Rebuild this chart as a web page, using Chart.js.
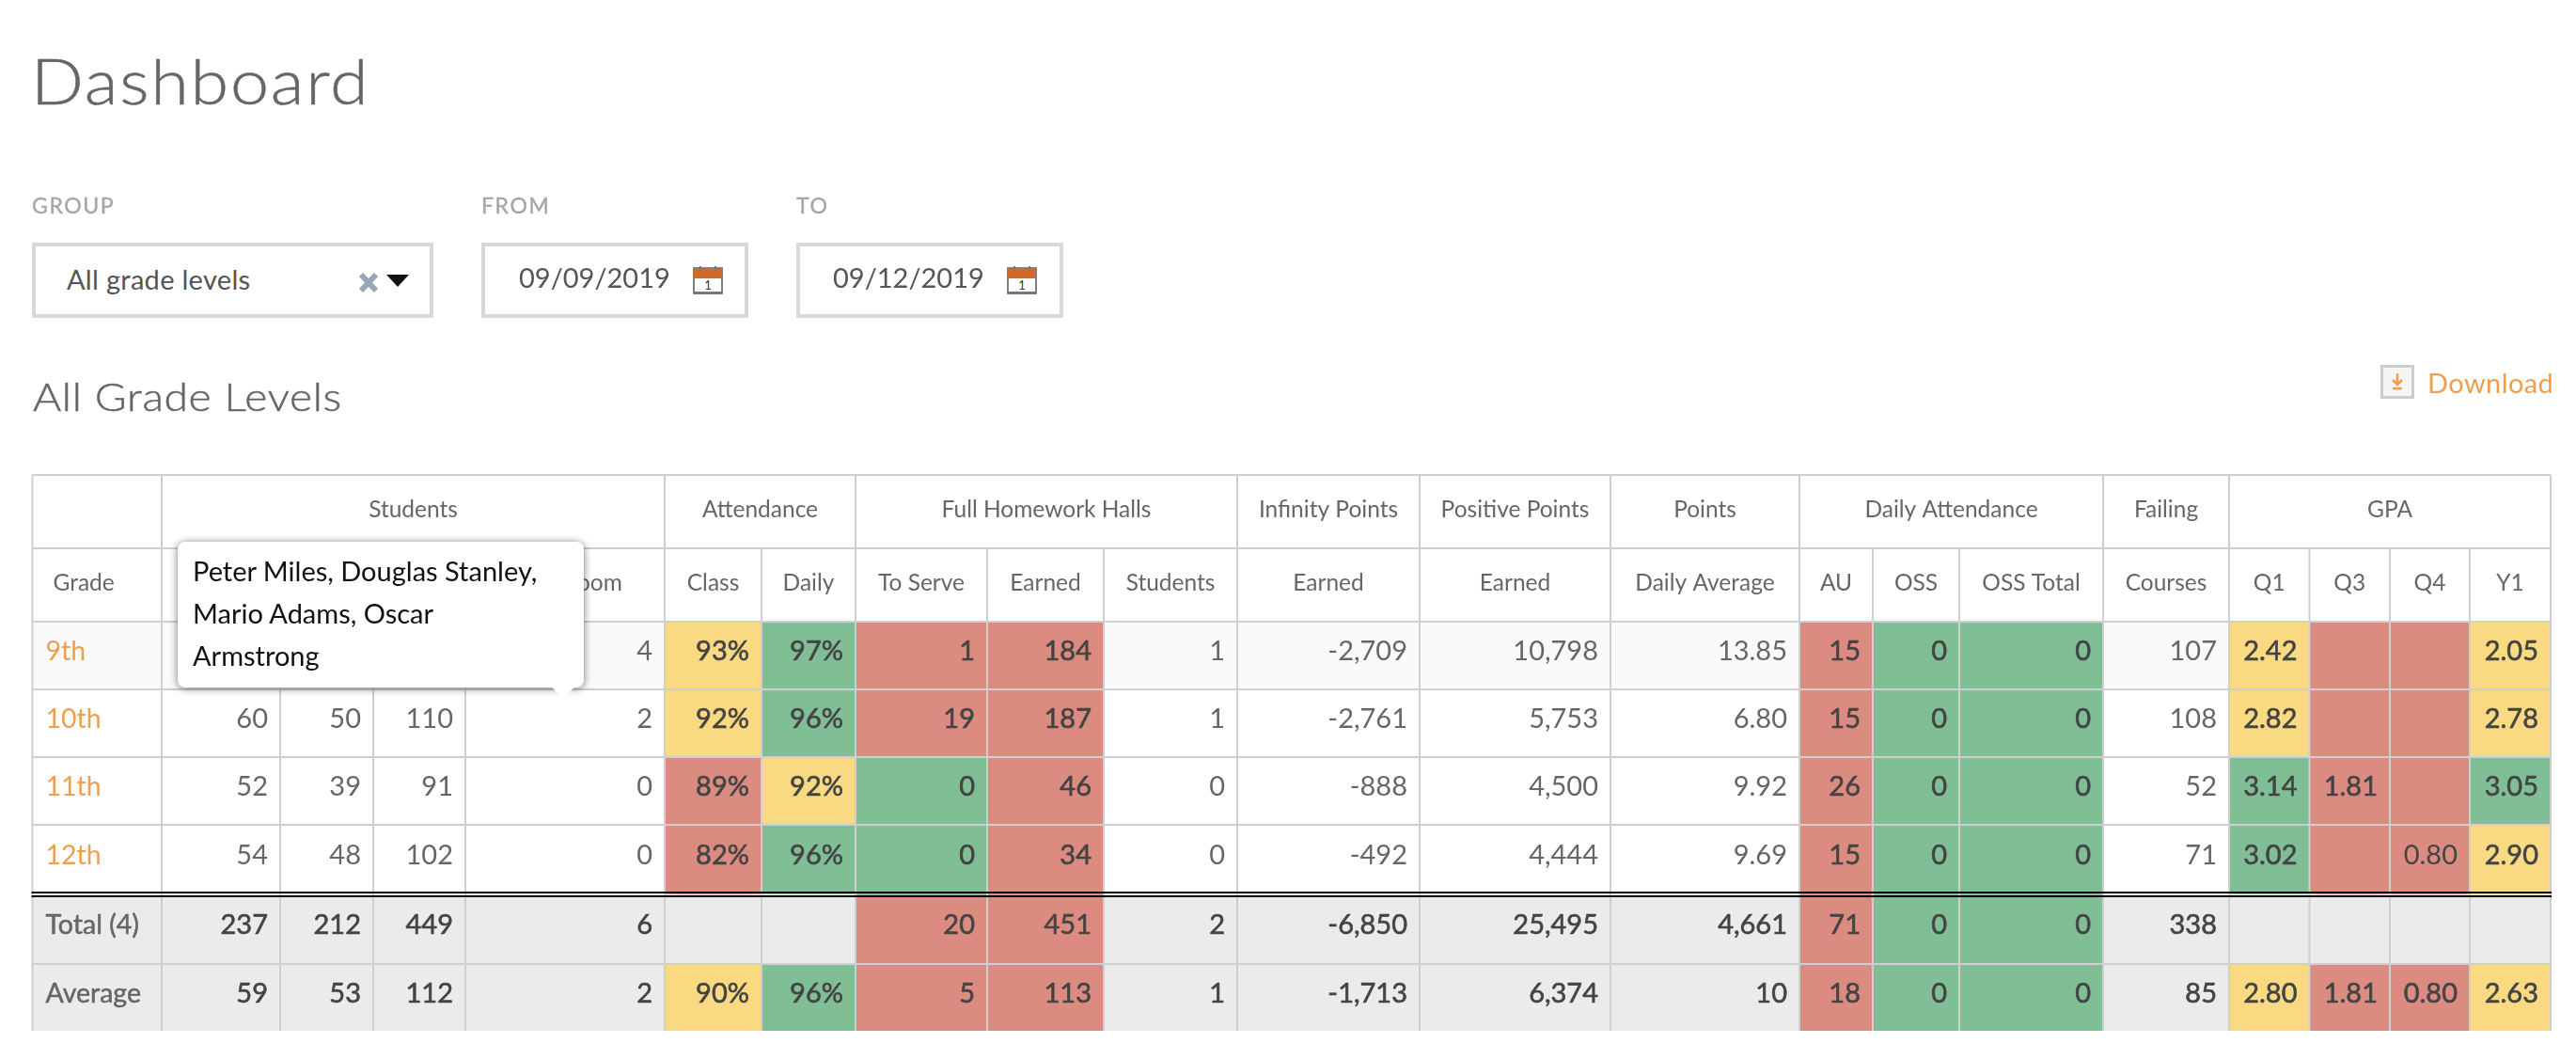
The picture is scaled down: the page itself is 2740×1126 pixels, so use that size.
<!DOCTYPE html>
<html>
<head>
<meta charset="utf-8">
<title>Dashboard</title>
<script src="https://cdn.jsdelivr.net/npm/chart.js@4"></script>
<style>
  html, body { margin: 0; padding: 0; background: #fff; font-family: Lato, sans-serif; color: #666; }
  #page { position: relative; width: 2740px; height: 1126px; overflow: hidden; }
  #page canvas { position: absolute; left: 0; top: 0; }
  .abs { position: absolute; white-space: nowrap; }
  .wide { transform-origin: 0 0; transform: scaleX(1.1); font-weight: 300; -webkit-text-stroke: .5px #666; }
  .label { font-size: 23px; color: #a6a6a6; letter-spacing: 1.6px; -webkit-text-stroke: .4px #a6a6a6; }
  .box { position: absolute; box-sizing: border-box; border: 4px solid #d9d9d9; background: #fff; height: 80px; top: 258px; }
  .field { font-size: 29px; color: #555; }
  #tip { position: absolute; left: 189px; top: 576px; width: 432px; height: 155px; box-sizing: border-box; background: #fff;
    border-radius: 8px; box-shadow: 0 1px 9px rgba(0,0,0,.55); padding: 8px 16px; color: #111; font-size: 29px; line-height: 45px; }
  #caret { position: absolute; left: 590px; top: 721px; width: 18px; height: 18px; background: #fff; transform: rotate(45deg); }
</style>
</head>
<body>
<div id="page">
  <canvas id="table" width="2740" height="1126"></canvas>

  <div class="abs wide" style="left:33px;top:45px;font-size:67px;color:#666;letter-spacing:1.6px;">Dashboard</div>

  <div class="abs label" style="left:34px;top:204px;">GROUP</div>
  <div class="abs label" style="left:512px;top:204px;">FROM</div>
  <div class="abs label" style="left:847px;top:204px;">TO</div>

  <div class="box" style="left:34px;width:427px;"></div>
  <div class="box" style="left:512px;width:284px;"></div>
  <div class="box" style="left:847px;width:284px;"></div>

  <div class="abs field" style="left:71px;top:279px;letter-spacing:.3px;">All grade levels</div>
  <svg class="abs" style="left:380px;top:289px;" width="24" height="23" viewBox="0 0 24 23">
    <path d="M4 3 L20 20 M20 3 L4 20" stroke="#9aa5b8" stroke-width="6"/>
  </svg>
  <svg class="abs" style="left:411px;top:292px;" width="24" height="13" viewBox="0 0 24 13">
    <path d="M0 0 H24 L12 13 Z" fill="#111"/>
  </svg>

  <div class="abs field" style="left:552px;top:277px;">09/09/2019</div>
  <div class="abs field" style="left:886px;top:277px;">09/12/2019</div>
  <svg class="abs" style="left:737px;top:283px;" width="32" height="31" viewBox="0 0 32 31">
    <rect x="1" y="2" width="30" height="27" fill="#fff" stroke="#555" stroke-width="1.5"/>
    <rect x="1" y="2" width="30" height="11" fill="#d2692a"/>
    <rect x="1" y="27" width="30" height="3" fill="#777"/>
    <path d="M8 0 V5 M24 0 V5" stroke="#777" stroke-width="2"/>
    <text x="16" y="25" font-size="13" text-anchor="middle" fill="#333" font-family="Lato">1</text>
  </svg>
  <svg class="abs" style="left:1071px;top:283px;" width="32" height="31" viewBox="0 0 32 31">
    <rect x="1" y="2" width="30" height="27" fill="#fff" stroke="#555" stroke-width="1.5"/>
    <rect x="1" y="2" width="30" height="11" fill="#d2692a"/>
    <rect x="1" y="27" width="30" height="3" fill="#777"/>
    <path d="M8 0 V5 M24 0 V5" stroke="#777" stroke-width="2"/>
    <text x="16" y="25" font-size="13" text-anchor="middle" fill="#333" font-family="Lato">1</text>
  </svg>

  <div class="abs wide" style="left:35px;top:396px;font-size:42px;color:#666;letter-spacing:.6px;">All Grade Levels</div>

  <svg class="abs" style="left:2532px;top:388px;" width="36" height="36" viewBox="0 0 36 36">
    <rect x="1.5" y="1.5" width="33" height="33" fill="#f5f5f5" stroke="#ccc" stroke-width="3"/>
    <path d="M18 9 V20 M13 16 L18 21 L23 16 M13 25 H23" stroke="#ee9f4e" stroke-width="2.5" fill="none"/>
  </svg>
  <div class="abs" style="left:2582px;top:389px;font-size:29px;color:#ee9f4e;letter-spacing:.4px;">Download</div>

  <div id="tip">Peter Miles, Douglas Stanley,<br>Mario Adams, Oscar<br>Armstrong</div>
  <div id="caret"></div>
</div>

<script>
// таблица - данные по колонкам
var groupLabels = ['', 'Students', 'Attendance', 'Full Homework Halls', 'Infinity Points', 'Positive Points', 'Points', 'Daily Attendance', 'Failing', 'GPA'];
var groupSpans = [1, 4, 2, 3, 1, 1, 1, 3, 1, 4];
var columnLabels = ['Grade', 'Male', 'Female', 'Total', 'Homeroom', 'Class', 'Daily', 'To Serve', 'Earned', 'Students', 'Earned', 'Earned', 'Daily Average', 'AU', 'OSS', 'OSS Total', 'Courses', 'Q1', 'Q3', 'Q4', 'Y1'];

var grades = ['9th', '10th', '11th', '12th', 'Total (4)', 'Average'];
var male = ['71', '60', '52', '54', '237', '59'];
var female = ['75', '50', '39', '48', '212', '53'];
var totalStudents = ['146', '110', '91', '102', '449', '112'];
var homeroom = ['4', '2', '0', '0', '6', '2'];
var attClass = ['93%', '92%', '89%', '82%', '', '90%'];
var attDaily = ['97%', '96%', '92%', '96%', '', '96%'];
var toServe = ['1', '19', '0', '0', '20', '5'];
var hallsEarned = ['184', '187', '46', '34', '451', '113'];
var hallsStudents = ['1', '1', '0', '0', '2', '1'];
var infinityEarned = ['-2,709', '-2,761', '-888', '-492', '-6,850', '-1,713'];
var positiveEarned = ['10,798', '5,753', '4,500', '4,444', '25,495', '6,374'];
var dailyAverage = ['13.85', '6.80', '9.92', '9.69', '4,661', '10'];
var au = ['15', '15', '26', '15', '71', '18'];
var oss = ['0', '0', '0', '0', '0', '0'];
var ossTotal = ['0', '0', '0', '0', '0', '0'];
var courses = ['107', '108', '52', '71', '338', '85'];
var q1 = ['2.42', '2.82', '3.14', '3.02', '', '2.80'];
var q3 = ['', '', '1.81', '', '', '1.81'];
var q4 = ['', '', '', '0.80', '', '0.80'];
var y1 = ['2.05', '2.78', '3.05', '2.90', '', '2.63'];

var columns = [grades, male, female, totalStudents, homeroom, attClass, attDaily, toServe, hallsEarned, hallsStudents,
  infinityEarned, positiveEarned, dailyAverage, au, oss, ossTotal, courses, q1, q3, q4, y1];

// r, y, g - цвет ячейки, пусто - обычная строка
var statusClass = ['y', 'y', 'r', 'r', '', 'y'];
var statusDaily = ['g', 'g', 'y', 'g', '', 'g'];
var statusServe = ['r', 'r', 'g', 'g', 'r', 'r'];
var statusEarned = ['r', 'r', 'r', 'r', 'r', 'r'];
var statusAu = ['r', 'r', 'r', 'r', 'r', 'r'];
var statusOss = ['g', 'g', 'g', 'g', 'g', 'g'];
var statusQ1 = ['y', 'y', 'g', 'g', '', 'y'];
var statusQ3 = ['r', 'r', 'r', 'r', '', 'r'];
var statusQ4 = ['r', 'r', 'r', 'r', '', 'r'];
var statusY1 = ['y', 'y', 'g', 'y', '', 'y'];
var statuses = {5: statusClass, 6: statusDaily, 7: statusServe, 8: statusEarned, 13: statusAu, 14: statusOss, 15: statusOss,
  17: statusQ1, 18: statusQ3, 19: statusQ4, 20: statusY1};

var colWidths = [137.5, 126, 99, 98, 212, 103, 100, 140, 124, 142, 194, 203, 201, 78, 92, 153, 134, 85.5, 85.5, 85, 86];
var rowHeights = [78, 78, 72, 72, 72, 74, 74, 71];
var tableLeft = 34.5, tableTop = 505;

var colors = {r: '#db8b80', y: '#f9d981', g: '#80bf96'};
var rowFill = ['#fafafa', '#ffffff', '#ffffff', '#ffffff', '#ebebeb', '#ebebeb'];
var gridColor = '#cfcfcf';
var font = 'Lato, sans-serif';

function cumulate(list, start) {
  var out = [start];
  list.forEach(function (v) { out.push(out[out.length - 1] + v); });
  return out;
}
var colEdges = cumulate(colWidths, tableLeft);
var rowEdges = cumulate(rowHeights, tableTop);
var tableRight = colEdges[colEdges.length - 1];
var tableBottom = rowEdges[rowEdges.length - 1];

// одна колонка - один набор столбиков
var datasets = columns.map(function (values, c) {
  return {
    data: values.map(function (v, r) {
      return {x: (colEdges[c] + colEdges[c + 1]) / 2, y: [rowEdges[r + 2], rowEdges[r + 3]]};
    }),
    backgroundColor: values.map(function (v, r) {
      var st = statuses[c] ? statuses[c][r] : '';
      return st ? colors[st] : rowFill[r];
    }),
    barThickness: colWidths[c],
    borderWidth: 0,
    grouped: false
  };
});

function line(ctx, x0, y0, x1, y1, color, width) {
  ctx.strokeStyle = color;
  ctx.lineWidth = width;
  ctx.beginPath();
  ctx.moveTo(x0, y0);
  ctx.lineTo(x1, y1);
  ctx.stroke();
}

var tablePlugin = {
  id: 'tablePlugin',
  afterDatasetsDraw: function (chart) {
    var ctx = chart.ctx, sx = chart.scales.x, sy = chart.scales.y;
    var X = function (v) { return sx.getPixelForValue(v); };
    var Y = function (v) { return sy.getPixelForValue(v); };
    ctx.save();

    // сетка
    rowEdges.forEach(function (e, i) {
      if (i !== 6 && i !== 8) line(ctx, X(tableLeft), Y(e), X(tableRight), Y(e), gridColor, 2);
    });
    var groupEdge = {};
    var n = 0;
    groupSpans.forEach(function (s) { groupEdge[n] = true; n += s; });
    groupEdge[n] = true;
    colEdges.forEach(function (e, c) {
      var from = groupEdge[c] ? rowEdges[0] : rowEdges[1];
      line(ctx, X(e), Y(from), X(e), Y(tableBottom), gridColor, 2);
    });

    // двойная черная линия над итогами
    line(ctx, X(tableLeft) - 1, Y(rowEdges[6]) - 2, X(tableRight) + 1, Y(rowEdges[6]) - 2, '#000', 2);
    line(ctx, X(tableLeft) - 1, Y(rowEdges[6]) + 2, X(tableRight) + 1, Y(rowEdges[6]) + 2, '#000', 2);

    ctx.textBaseline = 'middle';

    // заголовки
    ctx.textAlign = 'center';
    ctx.fillStyle = '#666';
    ctx.font = '24.5px ' + font;
    var c0 = 0;
    groupLabels.forEach(function (label, g) {
      var mid = (colEdges[c0] + colEdges[c0 + groupSpans[g]]) / 2;
      ctx.fillText(label, X(mid), Y((rowEdges[0] + rowEdges[1]) / 2) - 2);
      c0 += groupSpans[g];
    });
    columnLabels.forEach(function (label, c) {
      var cy = Y((rowEdges[1] + rowEdges[2]) / 2) - 2;
      if (c === 0) {
        ctx.textAlign = 'left';
        ctx.fillText(label, X(colEdges[0]) + 22, cy);
        ctx.textAlign = 'center';
      } else {
        ctx.fillText(label, X((colEdges[c] + colEdges[c + 1]) / 2), cy);
      }
    });

    // значения
    columns.forEach(function (values, c) {
      values.forEach(function (v, r) {
        if (!v) return;
        var cy = Y((rowEdges[r + 2] + rowEdges[r + 3]) / 2) - 4;
        var st = statuses[c] ? statuses[c][r] : '';
        if (c === 0) {
          ctx.textAlign = 'left';
          ctx.fillStyle = r < 4 ? '#ee9f4e' : '#666';
          ctx.font = '28.5px ' + font;
          ctx.fillText(v, X(colEdges[0]) + 14, cy);
          if (r >= 4) {
            ctx.strokeStyle = '#666';
            ctx.lineWidth = 0.5;
            ctx.strokeText(v, X(colEdges[0]) + 14, cy);
          }
          return;
        }
        var plain = r < 4 && (!st || c === 19);
        var tx = X(colEdges[c + 1]) - 13;
        ctx.textAlign = 'right';
        ctx.fillStyle = plain && !st ? '#666' : '#444';
        ctx.font = '29px ' + font;
        ctx.fillText(v, tx, cy);
        if (!plain) {
          // полужирный в шрифте слабый, добавляем обводку
          ctx.strokeStyle = ctx.fillStyle;
          ctx.lineWidth = 0.6;
          ctx.strokeText(v, tx, cy);
        }
      });
    });
    ctx.restore();
  }
};

var chart = new Chart(document.getElementById('table'), {
  type: 'bar',
  data: {datasets: datasets},
  plugins: [tablePlugin],
  options: {
    responsive: false,
    animation: false,
    devicePixelRatio: 1,
    layout: {padding: {left: tableLeft, top: tableTop, right: 2740 - tableRight, bottom: 1126 - tableBottom}},
    plugins: {legend: {display: false}, tooltip: {enabled: false}, title: {display: false}},
    scales: {
      x: {type: 'linear', display: false, offset: false, min: tableLeft, max: tableRight},
      y: {type: 'linear', display: false, reverse: true, beginAtZero: false, min: tableTop, max: tableBottom}
    }
  }
});
</script>
</body>
</html>
